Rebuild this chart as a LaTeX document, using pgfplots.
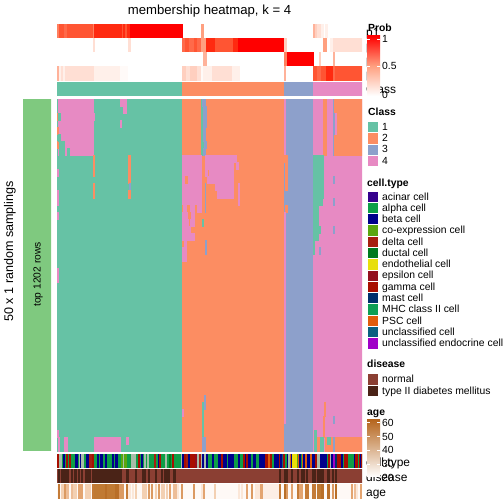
\documentclass[border=0pt]{standalone}
\usepackage{pgfplots}
\pgfplotsset{compat=1.18}
\usepackage{fontspec}
\setmainfont{Liberation Sans}
% class colours
\definecolor{Ca}{HTML}{66C2A5}\definecolor{Cb}{HTML}{FC8D62}\definecolor{Cc}{HTML}{8DA0CB}\definecolor{Cd}{HTML}{E78AC3}
\definecolor{lgreen}{HTML}{7FC97F}
% probability levels
\definecolor{Pa}{HTML}{FFFAF8}\definecolor{Pb}{HTML}{FFF0EA}\definecolor{Pc}{HTML}{FFDFD4}\definecolor{Pd}{HTML}{FFCFBF}
\definecolor{Pe}{HTML}{FFB29A}\definecolor{Pf}{HTML}{FFA080}\definecolor{Pg}{HTML}{FF7F5F}\definecolor{Ph}{HTML}{FF6A4A}
\definecolor{Pi}{HTML}{FF5533}\definecolor{Pj}{HTML}{FF2A10}\definecolor{Pk}{HTML}{FF0000}
% cell types
\definecolor{ac}{HTML}{35008C}\definecolor{al}{HTML}{0E9E47}\definecolor{be}{HTML}{00008B}\definecolor{co}{HTML}{5AA60F}
\definecolor{de}{HTML}{A61F0F}\definecolor{du}{HTML}{007A1F}\definecolor{en}{HTML}{E8DF0B}\definecolor{ep}{HTML}{930F1F}
\definecolor{ga}{HTML}{A80E00}\definecolor{ma}{HTML}{002F6C}\definecolor{mh}{HTML}{0E9E55}\definecolor{ps}{HTML}{E05C0B}
\definecolor{un}{HTML}{0A6080}\definecolor{ue}{HTML}{A000C8}\definecolor{gr}{HTML}{A8BCA8}
% disease
\definecolor{no}{HTML}{8B3F33}\definecolor{t2}{HTML}{4A2317}
% age levels
\definecolor{Aa}{HTML}{FEF9F6}\definecolor{Ab}{HTML}{FBE7D8}\definecolor{Ac}{HTML}{F3D0B2}\definecolor{Ad}{HTML}{EDBD97}
\definecolor{Ae}{HTML}{E3A470}\definecolor{Af}{HTML}{DB9A62}\definecolor{Ag}{HTML}{C47B37}\definecolor{Ah}{HTML}{C07A33}
\definecolor{Ai}{HTML}{B96F28}\definecolor{Aj}{HTML}{FCEEE5}\definecolor{Ak}{HTML}{B5651D}
\pgfplotsset{tr/.style={scale only axis,width=305bp,hide axis,anchor=south west,xmin=57,xmax=362,enlargelimits=false,clip=true}}
% one row of a track: x0/x1/colour
\newcommand\segs[1]{\foreach \xa/\xb/\col in {#1}{\edef\temp{\noexpand\addplot[fill=\col,draw=\col,line width=0.1pt,forget plot] coordinates {(\xa,0)(\xb,0)(\xb,1)(\xa,1)} --cycle;}\temp}}
% block of the main heatmap: x0/x1/row0/row1/colour
\newcommand\blocks[1]{\foreach \xa/\xb/\ya/\yb/\col in {#1}{\edef\temp{\noexpand\addplot[fill=\col,draw=\col,line width=0.1pt,forget plot] coordinates {(\xa,\ya)(\xb,\ya)(\xb,\yb)(\xa,\yb)} --cycle;}\temp}}
% track from pixel row y0 to y1
\newenvironment{track}[2]{\pgfmathsetmacro\tb{504-#2}\pgfmathsetmacro\th{#2-#1}\begin{axis}[tr,at={(57bp,\tb bp)},height=\th bp,ymin=0,ymax=1]}{\end{axis}}
\newcommand\tx[4][]{\node[anchor=base west,inner sep=0pt,#1] at (#2bp,{(504-#3)*1bp}) {#4};}
\newcommand\swatch[3]{\fill[#3,draw=white,line width=0.4pt] (367.5bp,{(504-#1)*1bp}) rectangle (378.5bp,{(504-#2)*1bp});}
\begin{document}
\begin{tikzpicture}[x=1bp,y=1bp]
\path[use as bounding box] (0,0) rectangle (504bp,504bp);
% ---- probability rows
\begin{track}{24}{38}
\segs{57/59/Pg,59/64/Pi,64/67/Ph,67/93/Pi,93/94/Pg,94/122/Pj,122/123/Pi,123/125/Pj,125/127/Pi,127/130/Pj,130/182/Pk,201/203/Pf,313/315/Pe,315/317.5/Pd,317.5/321/Pc,321/323/Pb,325/327/Pb}
\end{track}
\begin{track}{38}{52}
\segs{93/94/Pc,128/130/Pc,182/185/Ph,185/189/Pi,189/194/Ph,194/197/Pi,197/201/Ph,201/206/Pf,206/215/Pj,215/233/Pi,233/238/Pj,238/284/Pk,284/286/Pd,323/326/Pf,330/333/Pb,333/335/Pc,335/362/Pc}
\end{track}
\begin{track}{52}{66}
\segs{203/206/Pe,284/287/Pg,287/313/Pk,319/320/Pd,333/334/Pe}
\end{track}
\begin{track}{66}{81}
\segs{57/59/Pe,59/61/Pb,61/63/Pc,63/65/Pb,65/67/Pc,67/93/Pc,94/120/Pb,120/127/Pa,182/186/Pd,186/190/Pc,190/197/Pd,197/201/Pc,201/203/Pa,203/212/Pb,212/232/Pc,232/239/Pb,284/285/Pe,313/317/Pi,317/321/Ph,321/326/Pi,326/333/Pj,333/335/Ph,335/362/Pi}
\end{track}
% ---- class row
\begin{track}{82}{96}
\segs{57/182/Ca,182/284/Cb,284/313/Cc,313/362/Cd}
\end{track}
% ---- main heatmap
\begin{axis}[tr,at={(57bp,53bp)},height=352bp,ymin=0,ymax=50,y dir=reverse]
\blocks{57/182/0/50/Ca,182/284/0/50/Cb,284/313/0/50/Cc,313/362/0/50/Cd,
58/93.5/0/8/Cd,57/58/2/3/Cb,57/58/4/5/Cb,57/58/6/7/Cb,58/60.5/2/3/Ca,58/60/5/6/Ca,59/64/6/8/Ca,67/69/7/8/Ca,
120/126/0/1/Cd,123/126/1/2/Cd,120/121.3/3/4/Cd,93.5/94.5/2/3/Cd,
93/94/8/11/Cb,93/94/12/14/Cb,128/130/8/12/Cb,129/130/12/13/Cc,128/130/13/14/Cb,
57/58/10/11/Cd,57/58/13/15/Cd,57/58/16/17/Cd,57/58/24/26/Cd,57/58/47/48/Cd,58/59/48/50/Cd,64/67/48/50/Cd,94/120/48/50/Cd,126/128/48/49/Cd,
201.5/203.5/0/8/Ca,202/205/0/1/Cc,203.5/206/1/4/Cc,203.5/205/4/6/Cc,204/206/6/7/Cc,203.5/205/7/8/Cc,
182/201.5/8/15/Cd,205.5/236/8/9/Cd,205.5/233.3/9/10/Cd,235.7/238/9/10/Cd,205.5/207.3/10/11/Cd,209.3/233.3/10/11/Cd,207.3/233.3/11/12/Cd,215.3/233.3/12/13/Cd,238/239.3/12/15/Cd,217.3/233.3/13/14/Cd,
185.3/187.3/11/12/Cb,182/183.3/15/16/Cb,183.3/201.5/15/16/Cd,187.3/189/15/16/Cb,194.7/196/15/16/Cb,
182/194/16/17/Cd,188/190/16/17/Cb,182/188/17/18/Cd,190/194/17/18/Cd,182/190/18/19/Cd,182/194/19/20/Cd,184/186/20/21/Cd,182/186/21/23/Cd,
202/203.3/17/18/Ca,204.7/205.5/12/16/Cc,204.7/206/20/22/Cc,204/205/42/44/Cc,202/203/43/48/Ca,202/203/48/50/Cc,204/205/48/50/Cc,182/183/44/45/Cd,
284/285/0/8/Cd,284/285/8/9/Cb,285.5/287/8/13/Cb,285.5/287/15/16/Cb,284/285/16/46/Cd,
323/326/0/8/Cb,333/334/0/8/Cc,334/362/0/8/Cb,333.7/336/2/5/Cd,333/334/2/5/Cc,
313/323/8/14/Ca,313/322/14/15/Ca,313/318/15/19/Ca,319/320/18/19/Ca,313/317.7/19/20/Ca,313/314/20/21/Ca,313/314.5/21/22/Ca,
333/334/11/12/Cc,333/334/14/15/Cc,333/334/18/19/Cc,319.5/320.5/21/22/Cc,
324/325.3/43/45/Cb,323.3/324.3/45/48/Cb,333/334/45/46/Cc,
325.3/362/48/50/Cb,316/320/48/50/Cb,314/316/47/50/Ca,320/323/48/50/Ca,327/330/48/49/Ca,333/334/48/50/Cc}
\end{axis}
% ---- left annotation
\begin{axis}[scale only axis,hide axis,anchor=south west,at={(23bp,53bp)},width=28bp,height=352bp,xmin=0,xmax=1,ymin=0,ymax=1,enlargelimits=false]
\addplot[fill=lgreen,draw=lgreen,line width=0.1pt] coordinates {(0,0)(1,0)(1,1)(0,1)} --cycle;
\end{axis}
% ---- cell type
\begin{track}{454}{468}
\segs{57/362/al,57/58/ga,59.3/61.3/gr,63.3/64.3/be,66/67.3/ga,68.7/70/ga,75/77/be,79/80/gr,80/81.3/be,81.3/82.7/gr,86/87.7/be,89/90.7/de,91.7/93/ga,97/98/be,100/102/be,105/106/be,112/113.3/be,115/117/be,121/123/co,123/124/gr,124/126/co,130.7/132/gr,133.3/135/gr,138/139/ga,141/142/be,144/145/gr,147.3/148.3/gr,154/155/de,158/159/be,159/160/ga,165/166/gr,169/170/du,172/173/ga,181/182/gr,182/183/be,184/185/ga,186/187/de,188/190/be,190/195/ga,195/197/ep,197/198/gr,199/200/de,201/202/gr,202/204/be,204/205/gr,206/207/be,212/213/be,218/221/be,221/223/ga,223/226/be,228/233/be,238/239/be,243/245/ga,245/246/be,246/248/ga,248/250/be,253/255/be,259/264/be,265/267/ga,268/269/ps,270/271/ga,274/278/be,279/280/ga,280/281/be,282/283.3/un,283.3/284.3/ga,286.7/288.3/be,288.3/290/gr,290/291/ps,291/292/be,292/297/en,297/298/co,298/299/ps,299/300/be,302/303/ps,303/305/be,305/306/ps,307/310/be,310/312/ps,312/315/be,315/316/ga,317/320/gr,320/322/be,323/326/be,328/330/ga,330/331/gr,331/333/be,333/335/ue,335/337/ma,337/341/ga,341/342/be,344/345/ga,346/347/ga,354/355/be,355/357/ga,359/360/ga,360/361/be,361/362/ga}
\end{track}
% ---- disease
\begin{track}{469}{483}
\segs{57/362/no,58/59/t2,61/63/t2,64/68/t2,71/72/t2,74/76/t2,78/79/t2,81/82/t2,85/86/t2,87/88/t2,89/90/t2,92/93/t2,94/121/t2,126/128/t2,135/135.7/t2,142/143/t2,144/145/t2,148/149/t2,155/156/t2,161/162/t2,164/165/t2,166.3/167.3/t2,168/169/t2,173/175/t2,279/280/t2,284/287.3/t2,291.3/292.3/t2,297/298/t2,300.7/301.7/t2,303.3/304/t2,305.7/307/t2,312/315.3/t2,317/320/t2,321/322.7/t2,327/329.3/t2,332.3/333.3/t2,335.3/336.3/t2}
\end{track}
% ---- age
\begin{track}{484}{499}
\segs{57/362/Aa,58/59/Ag,61/63/Ac,64/66/Af,66/68/Ad,71/72/Ad,73/76/Ac,78/80/Ae,81/82/Ae,85/86/Ac,87/88/Ac,89/90/Ac,92/93/Ag,94/115/Ah,105/106/Ai,115/119.3/Ai,119.3/121/Af,122/123/Af,126/127/Ag,128/130/Ab,132/133/Ab,135/136/Ac,142/143/Ac,144/146/Ac,148/149/Af,151/152/Af,155/156/Ac,158/159/Af,161/164/Ac,166.3/167.3/Ac,169/170/Ae,173/176/Ad,177/178/Ab,181/182/Af,193/194/Af,201/202.7/Ab,202.7/204/Ae,214/215/Ac,238/239/Ab,241/242/Ab,246/247/Ae,251/252/Af,255/260/Ab,260/263.3/Ae,263.3/279/Aj,279/280/Ag,284/286/Ai,286/287.3/Af,291.3/292.3/Ae,297/298/Ag,299/300/Ae,301/302/Ae,305.3/308.3/Ag,312/315.3/Ag,317/320/Ah,321/322.7/Ai,327/329.3/Ai,332.3/333.3/Af,335.3/336.3/Ai,351/352/Ae,354/355/Ad,356/357/Ab,360/361/Ae}
\end{track}
% ---- title and side texts
\node[inner sep=0pt,anchor=base,font=\fontsize{13.2}{14}\selectfont] at (209.5bp,{(504-15)*1bp}) {membership heatmap, k = 4};
\node[inner sep=0pt,rotate=90,font=\fontsize{12.6}{14}\selectfont] at (10bp,{(504-251.5)*1bp}) {50 x 1 random samplings};
\node[inner sep=0pt,rotate=90,font=\fontsize{10.3}{12}\selectfont] at (38bp,{(504-274.5)*1bp}) {top 1202 rows};
% ---- track labels, under the legends
\begingroup\fontsize{12}{14}\selectfont
\tx{366}{37}{p1}\tx{366}{51}{p2}\tx{366}{65}{p3}\tx{366}{79}{p4}\tx{366}{93.5}{Class}
\tx{366}{466}{cell.type}\tx{366}{481}{disease}\tx{366}{496}{age}
\endgroup
% ---- legends
\begingroup\fontsize{10.4}{12}\selectfont
\tx[font=\bfseries]{368}{32}{Prob}
\shade[bottom color=white,top color=Pf] (367bp,{(504-66)*1bp}) rectangle (380bp,{(504-96)*1bp});
\shade[bottom color=Pf,top color=Pk] (367bp,{(504-36)*1bp}) rectangle (380bp,{(504-66)*1bp});
\foreach \y in {39,66.5}{\draw[white,line width=0.5pt] (367bp,{(504-\y)*1bp}) -- ++(3bp,0) (377bp,{(504-\y)*1bp}) -- ++(3bp,0);}
\tx{382}{42.5}{1}\tx{382}{70}{0.5}\tx{382}{98.5}{0}
\tx[font=\bfseries]{368}{116}{Class}
\swatch{121}{132.3}{Ca}\swatch{132.3}{143.7}{Cb}\swatch{143.7}{155}{Cc}\swatch{155}{166.3}{Cd}
\tx{382}{130}{1}\tx{382}{141.5}{2}\tx{382}{152.5}{3}\tx{382}{164}{4}
\tx[font=\bfseries]{367}{186}{cell.type}
\foreach \idx/\col/\lab in {0/ac/acinar cell,1/al/alpha cell,2/be/beta cell,3/co/co-expression cell,4/de/delta cell,5/du/ductal cell,6/en/endothelial cell,7/ep/epsilon cell,8/ga/gamma cell,9/ma/mast cell,10/mh/MHC class II cell,11/ps/PSC cell,12/un/unclassified cell,13/ue/unclassified endocrine cell}{
\pgfmathsetmacro\ya{190.8+11.28*\idx}\pgfmathsetmacro\yb{\ya+11.28}\pgfmathsetmacro\yc{\ya+9.2}
\swatch{\ya}{\yb}{\col}\tx{382}{\yc}{\lab}}
\tx[font=\bfseries]{367}{367.5}{disease}
\swatch{373.3}{384.7}{no}\swatch{384.7}{396}{t2}
\tx{382}{382.5}{normal}\tx{382}{394}{type II diabetes mellitus}
\tx[font=\bfseries]{367}{415}{age}
\shade[top color=Ak,bottom color=white] (367bp,{(504-419.5)*1bp}) rectangle (380bp,{(504-477)*1bp});
\foreach \y in {422.5,436.3,450,464}{\draw[white,line width=0.5pt] (367bp,{(504-\y)*1bp}) -- ++(3bp,0) (377bp,{(504-\y)*1bp}) -- ++(3bp,0);}
\tx{382}{426}{60}\tx{382}{440}{50}\tx{382}{453.5}{40}\tx{382}{467.5}{30}\tx{382}{481}{20}
\endgroup
\end{tikzpicture}
\end{document}
